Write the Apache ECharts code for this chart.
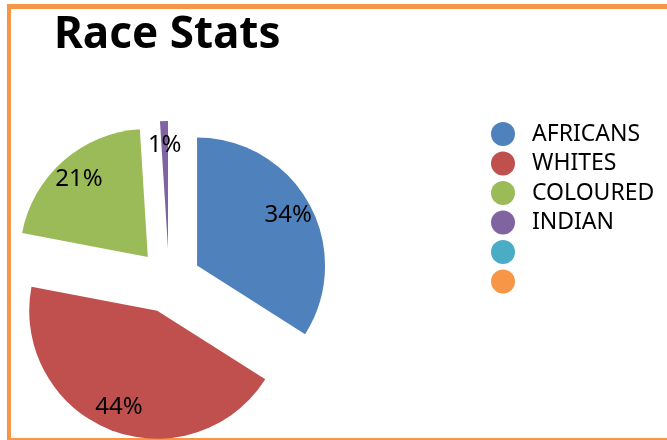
<!DOCTYPE html>
<html>
<head>
<meta charset="utf-8">
<title>Race Stats</title>
<script src="https://cdn.jsdelivr.net/npm/echarts@6/dist/echarts.min.js"></script>
<style>
  html, body { margin: 0; padding: 0; background: #fff; }
  #chart { width: 667px; height: 440px; }
</style>
</head>
<body>
<div id="chart"></div>
<script>
// data
const categories = ['AFRICANS', 'WHITES', 'COLOURED', 'INDIAN', ' ', '  ']
const shares = [34, 44, 21, 1, 0, 0]
const colors = ['#4f81bd', '#c0504d', '#9bbb59', '#8064a2', '#4bacc6', '#f79646']

const font = 'Noto Sans'
const center = [169, 281]
const radius = 128
const offset = 32

const chart = echarts.init(document.getElementById('chart'), null, { renderer: 'canvas' })

const pieData = categories.map((name, i) => ({
  name: name,
  value: shares[i],
  selected: true,
  itemStyle: { color: colors[i] }
}))

const option = {
  backgroundColor: '#ffffff',
  animation: false,
  title: {
    text: 'Race Stats',
    left: 54,
    top: 13,
    padding: 0,
    textStyle: {
      fontFamily: font,
      fontWeight: 'bold',
      fontSize: 44,
      color: '#000'
    }
  },
  legend: {
    orient: 'vertical',
    left: 491,
    top: 122,
    padding: 0,
    icon: 'circle',
    itemWidth: 24,
    itemHeight: 24,
    itemGap: 5.5,
    selectedMode: false,
    data: categories,
    textStyle: {
      fontFamily: font,
      fontSize: 23,
      color: '#000',
      padding: [0, 0, 0, 12]
    }
  },
  graphic: [
    { type: 'line', shape: { x1: 9, y1: 4, x2: 9, y2: 440 }, style: { stroke: '#f79646', lineWidth: 4 } },
    { type: 'line', shape: { x1: 7, y1: 6.5, x2: 667, y2: 6.5 }, style: { stroke: '#f79646', lineWidth: 5 } },
    { type: 'line', shape: { x1: 7, y1: 439, x2: 667, y2: 439 }, style: { stroke: '#f79646', lineWidth: 2 } }
  ],
  series: [
    {
      name: 'Race Stats',
      type: 'pie',
      center: center,
      radius: [0, radius],
      startAngle: 90,
      clockwise: true,
      selectedMode: 'multiple',
      selectedOffset: offset,
      percentPrecision: 0,
      label: { show: false },
      labelLine: { show: false },
      emphasis: { disabled: true },
      data: pieData
    },
    {
      // transparent ring that only carries the percentage labels
      name: 'labels',
      type: 'pie',
      center: center,
      radius: [74, radius],
      startAngle: 90,
      clockwise: true,
      silent: true,
      legendHoverLink: false,
      selectedMode: 'multiple',
      selectedOffset: offset,
      percentPrecision: 0,
      itemStyle: { color: 'rgba(0,0,0,0)' },
      label: {
        show: true,
        position: 'inside',
        fontFamily: font,
        fontSize: 24,
        color: '#000',
        formatter: p => (p.value ? p.percent + '%' : '')
      },
      labelLine: { show: false },
      emphasis: { disabled: true },
      data: categories.map((name, i) => ({
        name: name,
        value: shares[i],
        selected: true,
        itemStyle: { color: 'rgba(0,0,0,0)' }
      }))
    }
  ]
}

chart.setOption(option)
</script>
</body>
</html>
